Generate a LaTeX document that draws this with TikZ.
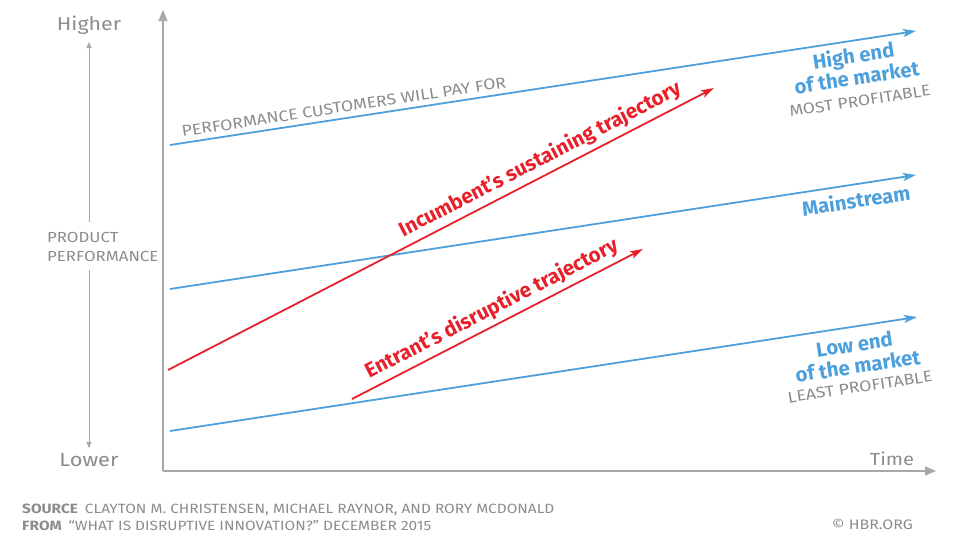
\documentclass[tikz,border=0pt]{standalone}
\usepackage{fontspec}
\setmainfont{Fira Sans}
\newfontfamily\grayfont[FakeStretch=1.15]{Fira Sans}
\usetikzlibrary{arrows.meta}
\definecolor{hbrblue}{RGB}{77,160,220}
\definecolor{hbrred}{RGB}{232,32,42}
\definecolor{txtgray}{RGB}{140,140,140}
\definecolor{axgray}{RGB}{168,168,168}
\begin{document}
\begin{tikzpicture}[x=1pt,y=-1pt,
  axisline/.style={draw=axgray,line width=1.4pt,-{Triangle[length=11pt,width=9pt]}},
  smallarrow/.style={draw=axgray,line width=0.9pt,-{Triangle[length=6pt,width=5pt]}},
  blueline/.style={draw=hbrblue,line width=1.8pt,-{Stealth[length=13pt,width=8pt,inset=3pt]}},
  redline/.style={draw=hbrred,line width=1.8pt,-{Stealth[length=13pt,width=8pt,inset=3pt]}},
  graylabel/.style={text=txtgray,inner sep=0pt},
  bluelabel/.style={text=hbrblue,font=\fontsize{20.3}{22}\selectfont\bfseries,inner sep=0pt},
  redlabel/.style={text=hbrred,font=\fontsize{20.6}{22}\selectfont\bfseries,inner sep=0pt},
  proflabel/.style={text=txtgray,font=\grayfont\fontsize{15.3}{17}\selectfont,inner sep=0pt}
]
\useasboundingbox (0,0) rectangle (974,555);
% axes
\coordinate (O) at (163,471);
\coordinate (ytip) at (163,10);
\coordinate (xtip) at (936,471);
\draw[axisline] (O) -- (ytip);
\draw[axisline] (O) -- (xtip);
% left scale
\node[graylabel,font=\grayfont\fontsize{18.6}{21}\selectfont] (higher) at (89,25) {Higher};
\node[graylabel,font=\grayfont\fontsize{19}{21}\selectfont] (lower) at (89,460) {Lower};
\node[graylabel,font=\grayfont\fontsize{14.6}{19.5}\selectfont,align=left,anchor=west] (pp) at (47,247) {PRODUCT\\PERFORMANCE};
\coordinate (su) at (89,222);
\coordinate (sd) at (89,270);
\coordinate (st) at (89,42);
\coordinate (sb) at (89,448);
\draw[smallarrow] (su) -- (st);
\draw[smallarrow] (sd) -- (sb);
% blue market lines
\coordinate (h1) at (170,145); \coordinate (h2) at (916,31);
\coordinate (m1) at (170,289); \coordinate (m2) at (916,175);
\coordinate (l1) at (170,431); \coordinate (l2) at (917,317);
\draw[blueline] (h1) -- node[graylabel,pos=0.017,sloped,anchor=south west,yshift=5pt,font=\grayfont\fontsize{15.4}{17}\selectfont] (pay) {PERFORMANCE CUSTOMERS WILL PAY FOR} (h2);
\draw[blueline] (m1) -- (m2);
\draw[blueline] (l1) -- (l2);
% red trajectories
\coordinate (i1) at (168,370); \coordinate (i2) at (714,88);
\coordinate (e1) at (352,399); \coordinate (e2) at (643,249);
\draw[redline] (i1) -- node[redlabel,pos=0.695,sloped,anchor=south,yshift=4.5pt] (inc) {Incumbent’s sustaining trajectory} (i2);
\draw[redline] (e1) -- node[redlabel,pos=0.505,sloped,anchor=south,yshift=4.5pt] (ent) {Entrant’s disruptive trajectory} (e2);
% right labels
\node[bluelabel,rotate=8.6,align=center] (high) at (855,66) {High end\\of the market};
\node[proflabel,rotate=8.6] (most) at (860,101) {MOST PROFITABLE};
\node[bluelabel,rotate=8.6] (main) at (856,200) {Mainstream};
\node[bluelabel,rotate=8.6,align=center] (low) at (856,355) {Low end\\of the market};
\node[proflabel,rotate=8.6,font=\grayfont\fontsize{15.4}{17}\selectfont] (least) at (860,387) {LEAST PROFITABLE};
\node[graylabel,font=\grayfont\fontsize{17.5}{21}\selectfont] (time) at (892,459) {Time};
% footer
\node[graylabel,anchor=west,font=\grayfont\fontsize{13.4}{17}\selectfont,align=left] (src) at (22,517)
  {\textbf{SOURCE}\hspace{7pt}CLAYTON M. CHRISTENSEN, MICHAEL RAYNOR, AND RORY MCDONALD\\
   \textbf{FROM}\hspace{7pt}“WHAT IS DISRUPTIVE INNOVATION?” DECEMBER 2015};
\node[graylabel,anchor=east,font=\grayfont\fontsize{13.8}{15}\selectfont] (hbr) at (913,524) {© HBR.ORG};
\end{tikzpicture}
\end{document}
